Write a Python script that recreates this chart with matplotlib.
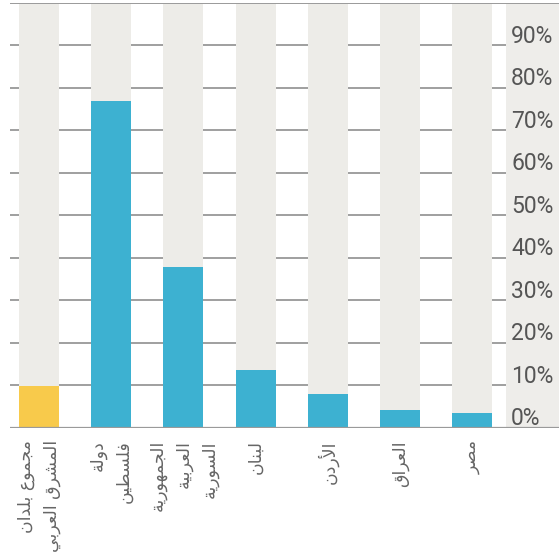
import numpy as np
import matplotlib.pyplot as plt

# البيانات
categories = ["مجموع بلدان\nالمشرق العربي", "دولة\nفلسطين", "الجمهورية\nالعربية\nالسورية",
              "لبنان", "الأردن", "العراق", "مصر"]
values = [9.8, 77.0, 37.8, 13.5, 7.9, 4.1, 3.4]
bar_colors = ["#F8CA4B", "#3DB1D1", "#3DB1D1", "#3DB1D1", "#3DB1D1", "#3DB1D1", "#3DB1D1"]
yticks = [0, 10, 20, 30, 40, 50, 60, 70, 80, 90]
ytick_labels = [f"{t}%" for t in yticks]

# matplotlib لا يقوم بوصل الحروف العربية، لذا نحولها إلى أشكال العرض يدوياً
# (منفصل، نهائي، بداية، وسط)
FORMS = {
    'ا': ('\ufe8d', '\ufe8e', None, None),
    'أ': ('\ufe83', '\ufe84', None, None),
    'ب': ('\ufe8f', '\ufe90', '\ufe91', '\ufe92'),
    'ة': ('\ufe93', '\ufe94', None, None),
    'ت': ('\ufe95', '\ufe96', '\ufe97', '\ufe98'),
    'ج': ('\ufe9d', '\ufe9e', '\ufe9f', '\ufea0'),
    'د': ('\ufea9', '\ufeaa', None, None),
    'ر': ('\ufead', '\ufeae', None, None),
    'س': ('\ufeb1', '\ufeb2', '\ufeb3', '\ufeb4'),
    'ش': ('\ufeb5', '\ufeb6', '\ufeb7', '\ufeb8'),
    'ص': ('\ufeb9', '\ufeba', '\ufebb', '\ufebc'),
    'ط': ('\ufec1', '\ufec2', '\ufec3', '\ufec4'),
    'ع': ('\ufec9', '\ufeca', '\ufecb', '\ufecc'),
    'ف': ('\ufed1', '\ufed2', '\ufed3', '\ufed4'),
    'ق': ('\ufed5', '\ufed6', '\ufed7', '\ufed8'),
    'ل': ('\ufedd', '\ufede', '\ufedf', '\ufee0'),
    'م': ('\ufee1', '\ufee2', '\ufee3', '\ufee4'),
    'ن': ('\ufee5', '\ufee6', '\ufee7', '\ufee8'),
    'ه': ('\ufee9', '\ufeea', '\ufeeb', '\ufeec'),
    'و': ('\ufeed', '\ufeee', None, None),
    'ي': ('\ufef1', '\ufef2', '\ufef3', '\ufef4'),
}
LAM_ALEF = {'ا': ('\ufefb', '\ufefc'), 'أ': ('\ufef7', '\ufef8')}


def shape_line(line):
    tokens = []
    i = 0
    while i < len(line):
        c = line[i]
        if c == 'ل' and i + 1 < len(line) and line[i + 1] in LAM_ALEF:
            tokens.append(('LA', line[i + 1]))
            i += 2
        else:
            tokens.append(c)
            i += 1

    def is_ar(t):
        return isinstance(t, tuple) or t in FORMS

    def joins_next(t):
        return (not isinstance(t, tuple)) and t in FORMS and FORMS[t][2] is not None

    out = []
    for k, t in enumerate(tokens):
        if not is_ar(t):
            out.append(t)
            continue
        prev_j = k > 0 and joins_next(tokens[k - 1])
        next_j = joins_next(t) and k + 1 < len(tokens) and is_ar(tokens[k + 1])
        if isinstance(t, tuple):
            out.append(LAM_ALEF[t[1]][1 if prev_j else 0])
            continue
        iso, fin, ini, med = FORMS[t]
        if prev_j and next_j:
            out.append(med)
        elif prev_j:
            out.append(fin)
        elif next_j:
            out.append(ini)
        else:
            out.append(iso)
    return ''.join(out)[::-1]


def shape(text):
    return '\n'.join(shape_line(l) for l in text.split('\n'))


x = np.arange(len(categories))
bar_w = 0.554
x_left, x_panel, x_right = -0.402, 6.471, 7.205

fig = plt.figure(figsize=(5.59, 5.60), dpi=100)
ax = fig.add_axes([10 / 559, 1 - 427.7 / 560, 549 / 559, 424.7 / 560])

# خطوط الشبكة
for t in yticks[1:]:
    ax.axhline(t, color="#8f8f8f", lw=1.2, zorder=1)

# لوحة تسميات المحور
ax.axvspan(x_panel, x_right, color="#EEEDEA", lw=0, zorder=2)

# أعمدة الخلفية حتى 100% ثم الأعمدة الفعلية
ax.bar(x, [100] * len(x), width=bar_w, color="#EDECE8", zorder=3)
ax.bar(x, values, width=bar_w, color=bar_colors, zorder=4)

ax.axhline(100, color="#9a9a9a", lw=1.4, zorder=5)
ax.axhline(0, color="#9a9a9a", lw=1.6, zorder=5)

for t, lab in zip(yticks, ytick_labels):
    ax.text(6.54, t + 0.6, lab, ha="left", va="baseline", fontsize=16.5,
            color="#555555", family="Roboto", zorder=6)

ax.set_xlim(x_left, x_right)
ax.set_ylim(0, 100)
ax.set_xticks(x, [shape(c) for c in categories], rotation=90, ha="center", va="top",
              ma="right", fontsize=12.5, color="#666666", family="DejaVu Sans",
              linespacing=1.55)
ax.tick_params(axis="x", length=0, pad=9)
ax.set_yticks([])
for s in ax.spines.values():
    s.set_visible(False)

fig.savefig("out.png", dpi=100)
